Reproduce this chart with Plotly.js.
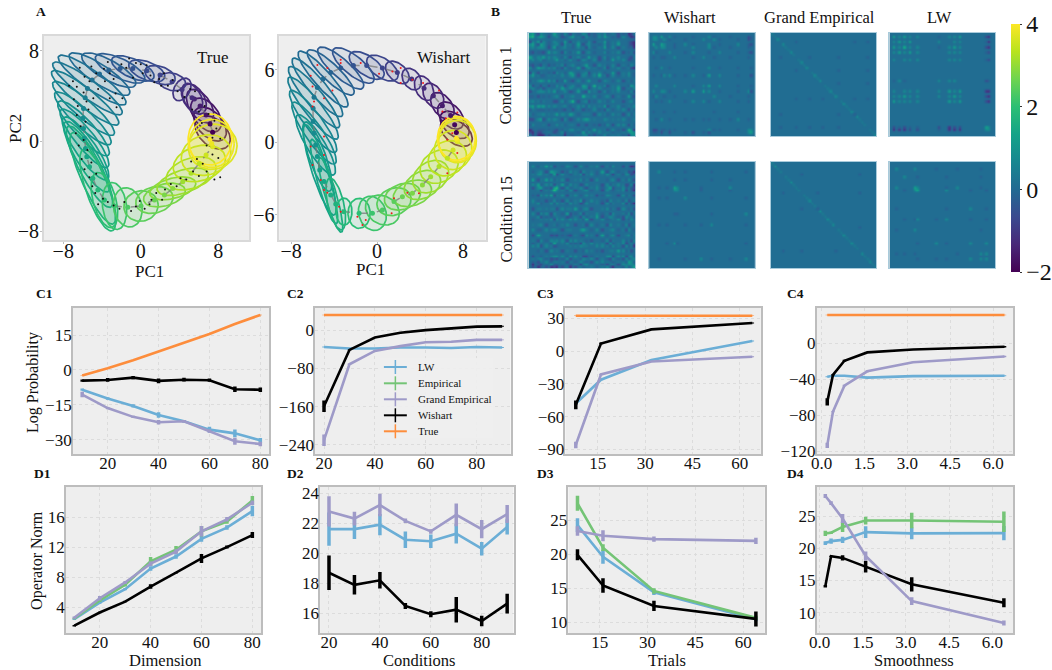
<!DOCTYPE html>
<html>
<head>
<meta charset="utf-8">
<script src="https://cdn.plot.ly/plotly-3.0.1.min.js"></script>
<style>html,body{margin:0;padding:0;background:#fff}</style>
</head>
<body>
<div id="chart" style="width:1052px;height:670px"></div>
<script>
// ---------- Panel A: ellipse data (PC units) ----------
const trueCx=[7.42,7.15,6.74,6.12,5.53,5.29,4.26,3.23,1.99,0.62,-0.82,-2.13,-3.30,-4.26,-5.02,-5.50,-5.74,-5.91,-5.98,-5.91,-5.81,-5.70,-5.57,-5.29,-4.95,-4.43,-3.75,-2.71,-1.34,0.03,1.41,2.44,3.30,4.33,5.19,6.05,6.74,7.42,7.32,7.15];
const trueCy=[0.77,1.50,2.30,3.10,3.72,3.83,4.57,5.25,5.84,6.22,6.43,6.43,6.28,5.93,5.40,4.66,3.83,2.89,2.01,1.12,0.24,-0.65,-1.39,-2.27,-3.30,-4.34,-5.22,-5.75,-5.87,-5.75,-5.22,-4.78,-4.19,-3.60,-2.86,-1.98,-1.24,-0.50,-0.21,0.15];
const trueA=[2.0,1.94,1.87,1.77,1.55,1.42,1.13,1.42,1.61,1.94,2.32,2.74,3.06,3.55,4.05,4.2,4.15,3.9,3.65,3.5,3.5,3.55,3.8,4.2,4.55,3.9,2.55,2.10,1.77,1.77,1.94,2.19,2.42,2.74,2.65,2.74,2.58,2.52,2.32,2.26];
const trueB=[1.23,1.16,1.13,1.03,.97,.90,.77,.77,.77,.81,.84,.87,.90,.88,.85,.85,.85,.85,.85,.88,.90,.97,1.03,1.06,1.13,1.16,1.16,1.23,1.45,1.35,1.16,.97,.90,1.03,1.35,1.55,1.77,2.0,2.13,2.26];
const trueAng=[-32,-38,-42,-48,-50,-55,50,-10,-15,-18,-20,-22,-25,-29,-31,-32,-34,-36,-38,-42,-46,-50,-54,-58,-62,-67,-71,-80,-70,5,10,12,12,15,15,12,10,5,0,0];
const trueDotsX=[-3.8,-3.2,-2.8,-2,-1.5,-1.2,-.5,.2,.6,1,1.4,1.9,2.4,2.8,3.3,3.8,4.5,5.1,5.6,5.3,6,6.6,7,6.3,7.6,7.4,8.2,7.8,6.8,7.4,8,6.4,6.8,5.8,5.2,5.4,6,8.2,7.6,4.7,4.1,3.7,3.1,2.5,2.2,1.6,1.1,.9,.4,-.1,-.5,-1,-1.7,-2.2,-2.8,-3.4,-3.9,-4.4,-4.7,-5,-5.3,-4.6,-5.8,-5.1,-6.1,-5.5,-6.4,-5.9,-6.7,-6.2,-5.7,-6.6,-5.4,-6.5,-5.6,-6.9,-4.9,-5.9,-7.4,-6.6,-5.3,-4.4,-3.7,-4.6,-5.8,-2.6,-1.9,-2.5,-3.2,-7,-6.3,-5.1,-3.4,-.8,2.1,0];
const trueDotsY=[6.4,6,5.5,6.8,6.5,7.3,6.9,6,6.7,5.8,5.2,5.5,6,4.9,5.4,4.4,3.9,4.6,4.4,2.8,2.6,3.1,2.4,1.6,1.8,.3,.2,1.1,-.4,-1.2,-1.5,-2,-2.7,-1.6,-1.8,-2.7,-3.1,-3.2,-3.4,-3.4,-3.3,-4,-3.8,-4.3,-5.2,-4.6,-5.2,-5.6,-6,-5.3,-5.8,-6.2,-5.4,-6,-5.7,-5.4,-5.1,-5.6,-4.6,-4,-3.2,-2.9,-2.5,-1.9,-1.6,-.8,-.4,.1,.7,1.3,1.7,2.3,2.8,3.1,3.5,3.7,3.8,4.3,4.9,4.8,5.3,4.6,5.3,6,5.7,4.2,3.8,3,3.8,5.3,6.5,6.6,7,5.6,4.9,6.8];

const wishCx=[7.38,7.22,6.85,6.08,5.24,4.37,3.22,1.89,0.50,-0.96,-2.20,-3.38,-4.31,-5.02,-5.55,-5.86,-5.95,-5.95,-5.86,-5.71,-5.55,-5.33,-4.93,-4.31,-3.84,-3.07,-1.67,-0.43,0.50,1.58,2.36,3.29,4.22,4.99,5.77,6.54,7.07,7.47,7.47,7.38];
const wishCy=[0.80,1.44,2.21,3.02,3.85,4.48,5.23,5.78,6.14,6.36,6.36,6.14,5.78,5.23,4.54,3.73,2.82,1.72,0.75,-0.22,-1.19,-2.30,-3.26,-4.37,-5.12,-5.75,-5.89,-5.89,-5.62,-4.92,-4.51,-4.23,-3.54,-2.85,-2.02,-1.33,-0.64,0.06,0.19,0.33];
const wishA=[1.62,1.53,1.41,1.32,1.18,1.12,1.03,1.24,1.62,1.82,2.29,2.65,2.79,3.2,3.3,3.4,3.4,3.3,3.2,3.0,3.09,3.97,3.68,3.24,2.21,1.12,1.24,1.47,1.62,1.62,1.71,1.82,1.76,1.76,1.82,1.82,1.76,1.76,1.76,1.76];
const wishB=[.94,.88,.88,.82,.79,.76,.74,.74,.82,.82,.82,.79,.74,.74,.74,.76,.76,.76,.78,.80,.76,.74,.59,.53,.74,.74,1.03,1.24,1.18,1.12,1.06,1.03,1.12,1.24,1.32,1.41,1.62,1.76,1.82,1.82];
const wishAng=[-30,-35,-40,-45,-50,-55,-45,-35,-30,-30,-35,-38,-40,-45,-46,-47,-48,-50,-52,-55,-68,-70,-72,-72,-75,-90,-90,-60,-20,15,15,15,20,25,20,20,15,5,0,0];
const wishDotsX=[-5.55,-6.17,-4.62,-3.38,-3.38,-1.52,.19,1.43,2.2,3.29,4.28,2.2,5.77,6.08,7.47,6.39,7,6.54,7.47,6.54,3.9,2.82,1.58,1.36,-1.05,-1.83,-1.36,-3.38,-3.53,-4.62,-4.93,-5.24,-6,-6.17,-4.93,-4.93,-6,-4.15,-4.93,-5.86,-6];
const wishDotsY=[6.4,5.5,6.14,6.83,6.56,6.56,5.67,5.86,6.14,5.17,4.9,4.9,4.29,2.54,2.46,1.99,.75,.2,-.9,-2.57,-4.23,-4.18,-4.65,-5.89,-6.45,-6.17,-6.86,-5.75,-5.34,-4.18,-3.96,-3.13,-1.88,-.36,-1.05,.47,2.96,4.29,3.65,3.37,4.62];

// ---------- Panel B: matrices over the visibly striped rows/columns (symmetric, upper triangle) ----------
const levelCodes={'.':0.08,':':0.35,'~':-0.25,'-':-0.7,'=':-1.25,'^':0.75,'+':1.35,'#':1.9};
const gridN=40;
const bTrue1Idx=[0,1,3,4,5,7,9,10,12,13,15,16,18,20,21,22,24,26,28,29,31,33,35,37,38,39];
const bTrue1Rows=[
"^+-^:~+:~^-:~^:-~:^~:-~=-:",
"#^+^-:^-~^+:-^.~^+:~-^~=-~",
"+-^~^:~+-:^.~^-:+~:^.~-=:",
"+^~:^-^:~+-:^.~^~:+.~-=~",
"^-+~:^.~^:-^~:+~^-:~.=-",
"+^:-^~:+-:^~.^~:^-~:-=",
"^:~^-:^~.+:-^~:^.~-:-",
"+:~^.-^:~^-:~+:^-~.=",
"^-:^~:+.-^:~^-:~^.-",
"^~.+-:^:~^-:^~:-=:",
"+^~:^-:^~.+-:^.~-:",
"+-^:~^#:-^~:^.~-=",
"^~:+.-^:~^-:~:^-",
"+^~#:^-:^.~+:-=",
"^-:^~.:+-:~^.-",
"+:-^~:^.~^-:~",
"^~:^-:~+.-^=",
"^:~^.-:^~:-",
"+-:^~:.^~-",
"^~:^-:~:=",
"^:-^~:.-",
":^~.:-=",
"^-:~+-",
"#^=^",
"+^:",
"^"];
const bWish1Idx=[1,2,4,5,7,9,13,16,20,22,24,26,30,33,37,38];
const bWish1Rows=[
"^^+.^~.~.^~.~.-~",
"^.^~.~.^.^~.~-~",
"+^.~^~.^.~.^~-",
"^.~.^.^~.~.~.",
"^.~^.~.^.~~-",
"^.~^.~.~.~.",
".~.^.~.~.~",
"^~+.^.~.-",
"^+.^.~.~",
"^.~.~^-",
"^.~.~.",
"^.~~",
".~.",
"^~",
"^^",
"+"];
const bGrand1Diag="::^:^::^:::^:^::^:^:::^:^::^::^:^:::^::^";
const bGrand1Idx=[3,9,14,19,25,31,36];
const bGrand1Rows=[".~...~~",".~.~.~","..~.~",".~.~",".~~","~.","."];
const bLw1Idx=[1,3,5,7,10,18,22,24,26,36,37];
const bLw1Rows=[
"+^+^^~^^+-=",
"+^+.^.^^~=",
"#^^~^+^-=",
"+^.^^^~-",
"^.^^^~-",
"^^^.-~",
"+^+==",
"+^-=",
"+-=",
"+^",
"^"];
const bTrue15Idx=[1,3,4,6,8,9,10,12,14,15,17,19,20,21,23,25,27,29,30,31,33,35,36,37,38,39];
const bTrue15Rows=[
"^~:+^-.~^:-^.~:^-:~^.-:~=-",
":^-+^:-~^:-^.:~+-:^~.:-~=",
"^:~+-^.~:^-:^~:^.-:~^:-~",
"+^~:^-.:^~:-^.~:^-:~^.-",
"^-:+~^:-~^.:-^~:^:-~^=",
"+#-^~:^.-:^~:+-.^~:~-",
"^:~^-.:^~:-^.~:^-:~=",
"^-:^~.^:-~^:.-^~:.-",
"^~:+-.^:~-^.:~^-.:",
"^:-~^.:-^~:.^-:~=",
"+~:^-.:^~:-^.~:-",
"^-:.^~:-^.:~^-:",
"^~:+-.^:~-^.:~",
"+-:^~.:^-:~^.-",
"^~:-^.:~^-.:",
"^-.:^~:-^.~",
"+~:^-.:^~:",
"^-:.^~:-^",
"^~:^-.:~",
"^:-^~:=",
"+^~:-.",
"^-:^~",
"^~:^",
"+^~",
"^:",
"+"];
const bWish15Idx=[3,6,9,10,13,19,23,30,36];
const bWish15Rows=["^.~.~.~.~",".~.~.~~.","+^.~.^.~","^.~.~.~","^.~.~.",".~.^.","^.~.",".~.","^"];
const bGrand15Diag=":^::^::^:::^::^:::^::^:^:::^::^:::^::^::";
const bGrand15Idx=[4,11,17,24,33];
const bGrand15Rows=[".~..~",".~.~","~..",".~","."];
const bLw15Idx=[2,5,9,10,17,21,25,30,34,36];
const bLw15Rows=["^.^.~.~.~.","^.~.~..~.","+^.~^.~.","+.^.~.~",".~.^.~","^.~.~","..~.","^.^","^^","^"];

// ---------- Panels C, D ----------
const dimX=[10,20,30,40,50,60,70,80];
const condX=[20,30,40,50,60,70,80,90];
const trialX=[8,16,32,64];
const smoothX=[0.2,0.4,0.8,1.6,3.2,6.4];

const c1True=[-2.4,0.7,4.2,7.9,11.8,15.5,19.8,23.7];
const c1TrueE=[.1,.1,.1,.1,.1,.1,.1,.1];
const c1Wish=[-4.6,-4.3,-3.3,-4.7,-4.2,-4.4,-8.3,-8.5];
const c1WishE=[.5,.8,.7,1,.8,.7,1.2,1];
const c1Lw=[-8.5,-12.3,-15.5,-19.4,-22.1,-25.7,-27.3,-30.3];
const c1LwE=[.5,.5,.7,1.2,.5,1.2,1.7,1];
const c1Gr=[-10.6,-16.4,-20.2,-22.5,-22.1,-26.3,-30.7,-31.9];
const c1GrE=[1.2,.5,.5,1,.5,.7,1.5,1];

const c2True=[32,32,32,32,32,32,32,32];
const c2TrueE=[.5,.5,.5,.5,.5,.5,.5,.5];
const c2Wish=[-159,-41,-15,-5,.5,3.5,7.7,8.4];
const c2WishE=[12,1,1,1,1,1,1,1];
const c2Lw=[-35,-38,-38,-36,-36,-37,-35,-36];
const c2LwE=[1,1,1,1,1,1,1,1];
const c2Gr=[-230,-71,-43,-33,-25,-24,-20,-20];
const c2GrE=[12,1.5,1.5,1,1,1,1,1];

const c3True=[32.4,32.4,32.4,32.4];
const c3TrueE=[.3,.3,.3,.3];
const c3Wish=[-49.2,7,19.9,25.7];
const c3WishE=[4,.8,.5,.5];
const c3Lw=[-48,-26.2,-8.2,9.2];
const c3LwE=[1,.5,.5,.5];
const c3Gr=[-86,-21.4,-9.5,-5.2];
const c3GrE=[3,.7,.4,.4];

const c4True=[31.6,31.6,31.6,31.6,31.6,31.6];
const c4TrueE=[.3,.3,.3,.3,.3,.3];
const c4Wish=[-65,-35,-19.3,-10,-6.7,-3.7];
const c4WishE=[4,.8,1,.5,.5,.8];
const c4Lw=[-37,-36,-36,-38,-36.4,-36];
const c4LwE=[.5,.5,.5,1,.5,.5];
const c4Gr=[-113.4,-76,-47,-31,-21,-14.5];
const c4GrE=[3,.5,1,1,.5,.8];

const d1Wish=[1.55,3.3,4.75,6.75,8.6,10.5,12,13.6];
const d1WishE=[.1,.1,.1,.3,.1,.6,.2,.4];
const d1Lw=[2.4,4.6,6.4,9.15,10.75,13.1,14.6,16.8];
const d1LwE=[.1,.15,.15,.3,.3,.4,.3,.7];
const d1Emp=[2.5,4.9,7,10.1,11.65,14.1,15.4,18.2];
const d1EmpE=[.1,.2,.25,.6,.5,.7,.3,.6];
const d1Gr=[2.6,5.2,7.3,9.8,11.4,14.1,15.7,17.9];
const d1GrE=[.15,.3,.2,.3,.3,.7,.3,.3];

const d2Gr=[22.78,22.3,23.2,22.15,21.45,22.55,21.6,22.6];
const d2GrE=[1,.45,.75,.15,.15,.75,.6,.6];
const d2Lw=[21.6,21.6,21.9,20.9,20.8,21.3,20.3,21.75];
const d2LwE=[1.1,.65,.7,.55,.45,.65,.45,.5];
const d2Wish=[18.7,17.9,18.2,16.5,15.95,16.25,15.5,16.65];
const d2WishE=[1.15,.65,.55,.2,.2,.85,.35,.65];

const d3Emp=[27.45,20.95,14.6,10.65];
const d3EmpE=[1.1,.5,.4,.3];
const d3Lw=[24.25,19.6,14.4,10.45];
const d3LwE=[1,1,.4,.3];
const d3Gr=[23.4,22.7,22.2,21.95];
const d3GrE=[.7,.8,.4,.45];
const d3Wish=[19.9,15.4,12.4,10.5];
const d3WishE=[.8,1.05,.75,1.1];

const d4Gr=[28.1,27,24.6,18.8,11.8,8.4];
const d4GrE=[.3,.3,.7,.7,.6,.4];
const d4Emp=[22.3,22.4,23.3,24.3,24.3,24.1];
const d4EmpE=[.4,.2,.8,.6,1.2,1.6];
const d4Lw=[20.8,21.1,21.3,22.5,22.3,22.35];
const d4LwE=[.3,.4,.5,.9,.9,1.1];
const d4Wish=[14.1,18.75,18.5,17.15,14.4,11.55];
const d4WishE=[.2,.1,.4,.9,1.1,.7];

const legendNames=['LW','Empirical','Grand Empirical','Wishart','True'];

// ---------- Styling ----------
const W=1052,H=670;
const SERIF='"Liberation Serif","Times New Roman",serif';
const COL={lw:'#6baed6',emp:'#74c476',gr:'#9e9ac8',wish:'#000000',tr:'#fd8d3c'};
const viridis=['#440154','#482878','#3a4a8f','#226a92','#178790','#14a388','#2bbf74','#6ed450','#b8e31e','#fde725'];
const viridisScale=viridis.map((c,i)=>[i/(viridis.length-1),c]);
function hex(c){return [1,3,5].map(i=>parseInt(c.substr(i,2),16));}
function vir(f){const p=f*(viridis.length-1),i=Math.min(Math.floor(p),viridis.length-2),t=p-i;
  const a=hex(viridis[i]),b=hex(viridis[i+1]);return a.map((v,k)=>Math.round(v+(b[k]-v)*t));}

const traces=[],annotations=[],shapes=[],layout={};
function setAxes(n,px,py,xo,yo){
  const sx=n===1?'':n;
  layout['xaxis'+sx]=Object.assign({domain:[px[0]/W,px[1]/W],anchor:'y'+sx,showline:true,mirror:true,zeroline:false,
    tickfont:{family:SERIF,size:17,color:'#111'},ticklen:0,ticklabelstandoff:-7,linecolor:'#bdbdbd',linewidth:1.5,
    showgrid:true,gridcolor:'#dcdcdc',griddash:'dot',gridwidth:1},xo);
  layout['yaxis'+sx]=Object.assign({domain:[1-py[1]/H,1-py[0]/H],anchor:'x'+sx,showline:true,mirror:true,zeroline:false,
    tickfont:{family:SERIF,size:17,color:'#111'},ticklen:0,ticklabelstandoff:-4,linecolor:'#bdbdbd',linewidth:1.5,
    showgrid:true,gridcolor:'#dcdcdc',griddash:'dot',gridwidth:1},yo);
}
function note(text,x,y,size,opt){annotations.push(Object.assign({text:text,x:x/W,y:1-y/H,xref:'paper',yref:'paper',showarrow:false,
  xanchor:'center',yanchor:'middle',font:{family:SERIF,size:size,color:'#111'}},opt||{}));}

// Panel A
function drawA(n,cx,cy,A,B,ang,dx,dy,dotColor,dotSize){
  const sx=n===1?'':n,xa='x'+sx,ya='y'+sx;
  cx.forEach((c,i)=>{
    const th=ang[i]*Math.PI/180,xs=[],ys=[];
    for(let k=0;k<=72;k++){const t=k/72*2*Math.PI;
      xs.push(c+A[i]*Math.cos(t)*Math.cos(th)-B[i]*Math.sin(t)*Math.sin(th));
      ys.push(cy[i]+A[i]*Math.cos(t)*Math.sin(th)+B[i]*Math.sin(t)*Math.cos(th));}
    const rgb=vir(i/(cx.length-1));
    traces.push({type:'scatter',mode:'lines',x:xs,y:ys,xaxis:xa,yaxis:ya,fill:'toself',
      fillcolor:'rgba('+rgb.join(',')+',0.1)',line:{color:'rgb('+rgb.join(',')+')',width:1.7},showlegend:false,hoverinfo:'skip'});
  });
  traces.push({type:'scatter',mode:'lines',x:cx,y:cy,xaxis:xa,yaxis:ya,line:{color:'rgba(120,120,120,0.75)',width:1.5,dash:'dash'},showlegend:false,hoverinfo:'skip'});
  traces.push({type:'scatter',mode:'markers',x:cx,y:cy,xaxis:xa,yaxis:ya,
    marker:{size:5,color:cx.map((_,i)=>'rgb('+vir(i/(cx.length-1)).join(',')+')')},showlegend:false,hoverinfo:'skip'});
  traces.push({type:'scatter',mode:'markers',x:dx,y:dy,xaxis:xa,yaxis:ya,marker:{size:dotSize,color:dotColor},showlegend:false,hoverinfo:'skip'});
}
const aX={showgrid:false,ticks:'outside',ticklen:2,tickcolor:'#bdbdbd',linecolor:'#d9d9d9',ticklabelstandoff:-10,tickfont:{family:SERIF,size:20,color:'#111'}};
const aY={showgrid:false,ticks:'outside',ticklen:2,tickcolor:'#bdbdbd',linecolor:'#d9d9d9',ticklabelstandoff:-3,tickfont:{family:SERIF,size:20,color:'#111'}};
setAxes(1,[44,250],[36,240],Object.assign({},aX,{range:[-10,11.2],tickvals:[-8,0,8],ticktext:['−8','0','8']}),
  Object.assign({},aY,{range:[-8.76,9.3],tickvals:[-8,0,8],ticktext:['−8','0','8']}));
setAxes(2,[280,487],[36,240],Object.assign({},aX,{range:[-9.1,10.1],tickvals:[-8,0,8],ticktext:['−8','0','8']}),
  Object.assign({},aY,{range:[-8.1,8.8],tickvals:[-6,0,6],ticktext:['−6','0','6']}));
drawA(1,trueCx,trueCy,trueA,trueB,trueAng,trueDotsX,trueDotsY,'#111',2);
drawA(2,wishCx,wishCy,wishA,wishB,wishAng,wishDotsX,wishDotsY,'#f01818',2);
note('True',214,57,17);note('Wishart',445,57,17);
note('PC1',150,271,17);note('PC1',372,269,17);note('PC2',16,128,17,{textangle:-90});

// Panel C, D
function series(n,x,y,e,color,w){
  const sx=n===1?'':n;
  traces.push({type:'scatter',mode:'lines',x:x,y:y,xaxis:'x'+sx,yaxis:'y'+sx,line:{color:color,width:w||2.6},
    error_y:{type:'data',array:e,visible:true,color:color,thickness:3.5,width:0},showlegend:false,hoverinfo:'skip'});
}
const C_Y=[308,454],D_Y=[487,633];
const t=v=>String(v).replace('-','−');
function ax(range,vals,extra){return Object.assign({range:range,tickvals:vals,ticktext:vals.map(t)},extra||{});}
const smoothVals=[0,1.5,3,4.5,6],smoothText=['0.0','1.5','3.0','4.5','6.0'];
setAxes(3,[73,270],C_Y,ax([6.3,83.5],[20,40,60,80]),ax([-36.2,26.7],[15,0,-15,-30]));
setAxes(4,[316,512],C_Y,ax([16.5,93.3],[20,40,60,80]),ax([-259,46.8],[0,-80,-160,-240]));
setAxes(5,[567,763],C_Y,ax([4.7,66.7],[15,30,45,60]),ax([-94.3,39.5],[30,0,-30,-60,-90]));
setAxes(6,[819,1016],C_Y,{range:[-0.17,6.7],tickvals:smoothVals,ticktext:smoothText},ax([-123,39.4],[0,-40,-80,-120]));
setAxes(7,[66,262],D_Y,ax([6.67,83.5],[20,40,60,80]),ax([0.57,20],[16,12,8,4]));
setAxes(8,[321,515],D_Y,ax([16.5,92.5],[20,40,60,80]),ax([14.7,24.4],[24,22,20,18,16]));
setAxes(9,[570,767],D_Y,ax([5.14,66.8],[15,30,45,60]),ax([8.43,29.85],[25,20,15,10]));
setAxes(10,[819,1016],D_Y,{range:[-0.1,6.72],tickvals:smoothVals,ticktext:smoothText},ax([6.85,29.5],[25,20,15,10]));

series(3,dimX,c1Lw,c1LwE,COL.lw);series(3,dimX,c1Gr,c1GrE,COL.gr);series(3,dimX,c1Wish,c1WishE,COL.wish);series(3,dimX,c1True,c1TrueE,COL.tr);
series(4,condX,c2Lw,c2LwE,COL.lw);series(4,condX,c2Gr,c2GrE,COL.gr);series(4,condX,c2Wish,c2WishE,COL.wish);series(4,condX,c2True,c2TrueE,COL.tr);
series(5,trialX,c3Lw,c3LwE,COL.lw);series(5,trialX,c3Gr,c3GrE,COL.gr);series(5,trialX,c3Wish,c3WishE,COL.wish);series(5,trialX,c3True,c3TrueE,COL.tr);
series(6,smoothX,c4Lw,c4LwE,COL.lw);series(6,smoothX,c4Gr,c4GrE,COL.gr);series(6,smoothX,c4Wish,c4WishE,COL.wish);series(6,smoothX,c4True,c4TrueE,COL.tr);
series(7,dimX,d1Wish,d1WishE,COL.wish);series(7,dimX,d1Lw,d1LwE,COL.lw);series(7,dimX,d1Emp,d1EmpE,COL.emp);series(7,dimX,d1Gr,d1GrE,COL.gr);
series(8,condX,d2Lw,d2LwE,COL.lw);series(8,condX,d2Gr,d2GrE,COL.gr);series(8,condX,d2Wish,d2WishE,COL.wish);
series(9,trialX,d3Lw,d3LwE,COL.lw);series(9,trialX,d3Emp,d3EmpE,COL.emp);series(9,trialX,d3Gr,d3GrE,COL.gr);series(9,trialX,d3Wish,d3WishE,COL.wish);
series(10,smoothX,d4Lw,d4LwE,COL.lw);series(10,smoothX,d4Emp,d4EmpE,COL.emp);series(10,smoothX,d4Wish,d4WishE,COL.wish);series(10,smoothX,d4Gr,d4GrE,COL.gr);

// Axis titles
note('Log Probability',33,382,16,{textangle:-90});
note('Operator Norm',37,560,16,{textangle:-90});
note('Dimension',165,660,16.5);note('Conditions',420,660,16.5);note('Trials',669,660,16.5);note('Smoothness',917,660,16.5);

// Panel letters
const bold=s=>'<b>'+s+'</b>';
[['A',41,12],['B',497,11],['C1',45,293],['C2',296,293],['C3',547,293],['C4',798,293],['D1',43,473],['D2',296,473],['D3',547,473],['D4',798,473]]
  .forEach(a=>note(bold(a[0]),a[1],a[2],13.5));

// Panel B
function matrix(idx,rows,diag){
  const z=[];for(let i=0;i<gridN;i++){z.push(new Array(gridN).fill(levelCodes['.']));}
  if(diag){for(let i=0;i<gridN;i++){z[i][i]=levelCodes[diag[i]];}}
  rows.forEach((r,i)=>{for(let j=0;j<r.length&&i+j<idx.length;j++){const v=levelCodes[r[j]],a=idx[i],b=idx[i+j];z[a][b]=v;z[b][a]=v;}});
  return z;
}
const heat=[[bTrue1Idx,bTrue1Rows,null,[530,637],[32.5,136]],[bWish1Idx,bWish1Rows,null,[651,757],[32.5,136]],[bGrand1Idx,bGrand1Rows,bGrand1Diag,[773,879],[32.5,136]],[bLw1Idx,bLw1Rows,null,[892,998],[32.5,136]],
  [bTrue15Idx,bTrue15Rows,null,[530,637],[162,268]],[bWish15Idx,bWish15Rows,null,[651,757],[162,268]],[bGrand15Idx,bGrand15Rows,bGrand15Diag,[773,879],[162,268]],[bLw15Idx,bLw15Rows,null,[892,998],[162,268]]];
heat.forEach((h,i)=>{
  const n=11+i;
  setAxes(n,h[3],h[4],{showticklabels:false,showgrid:false,ticks:'',linecolor:'#a9cbdb',linewidth:1,range:[-.5,gridN-.5]},
    {showticklabels:false,showgrid:false,ticks:'',linecolor:'#a9cbdb',linewidth:1,range:[gridN-.5,-.5]});
  const d={type:'heatmap',z:matrix(h[0],h[1],h[2]),xaxis:'x'+n,yaxis:'y'+n,zmin:-2,zmax:4,colorscale:viridisScale,zsmooth:'best',hoverinfo:'skip',showscale:i===0};
  if(i===0){d.colorbar={thickness:9,thicknessmode:'pixels',len:248,lenmode:'pixels',x:1014/W,xanchor:'left',y:1-148/H,yanchor:'middle',
    xpad:0,ypad:0,outlinewidth:0,tickvals:[-2,0,2,4],ticktext:['−2','0','2','4'],ticks:'outside',ticklen:2,tickcolor:'#333',tickfont:{family:SERIF,size:24,color:'#111'}};}
  traces.push(d);
});
note('True',578,18,16.5);note('Wishart',692,18,16.5);note('Grand Empirical',822,18,16.5);note('LW',942,18,16.5);
note('Condition 1',506,86,16.5,{textangle:-90});note('Condition 15',507,219,16.5,{textangle:-90});

// Legend in panel C2
const legY=[367,383.3,399.3,415.3,431.3],legC=[COL.lw,COL.emp,COL.gr,COL.wish,COL.tr];
shapes.push({type:'rect',xref:'paper',yref:'paper',x0:381/W,x1:495/W,y0:1-358/H,y1:1-438/H,fillcolor:'rgba(238,238,238,0.9)',line:{width:0}});
legendNames.forEach((nm,i)=>{
  shapes.push({type:'line',xref:'paper',yref:'paper',x0:385/W,x1:408/W,y0:1-legY[i]/H,y1:1-legY[i]/H,line:{color:legC[i],width:2}});
  shapes.push({type:'line',xref:'paper',yref:'paper',x0:396.5/W,x1:396.5/W,y0:1-(legY[i]-7)/H,y1:1-(legY[i]+7)/H,line:{color:legC[i],width:1.5}});
  note(nm,417,legY[i],11,{xanchor:'left'});
});

Object.assign(layout,{width:W,height:H,margin:{l:0,r:0,t:0,b:0},paper_bgcolor:'#ffffff',plot_bgcolor:'#eeeeee',showlegend:false,annotations:annotations,shapes:shapes,font:{family:SERIF}});
Plotly.newPlot('chart',traces,layout,{displayModeBar:false,responsive:false});
</script>
</body>
</html>
